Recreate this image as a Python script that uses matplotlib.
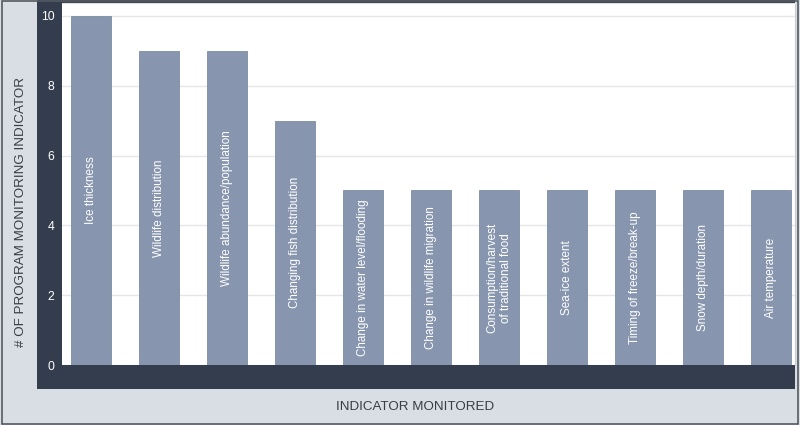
import matplotlib
matplotlib.use("Agg")
from matplotlib import pyplot as plt
from matplotlib.patches import Rectangle

plt.rcParams['font.family'] = ['Liberation Sans', 'DejaVu Sans']

indicators = [
    "Ice thickness",
    "Wildlife distribution",
    "Wildlife abundance/population",
    "Changing fish distribution",
    "Change in water level/flooding",
    "Change in wildlife migration",
    "Consumption/harvest\nof traditional food",
    "Sea-ice extent",
    "Timing of freeze/break-up",
    "Snow depth/duration",
    "Air temperature",
]
counts = [10, 9, 9, 7, 5, 5, 5, 5, 5, 5, 5]
y_ticks = [0, 2, 4, 6, 8, 10]

W, H = 800, 425
fig = plt.figure(figsize=(8, 4.25), dpi=100, facecolor='#d9dee5')

# dark strip behind axes (left + bottom)
fig.patches.append(Rectangle((37 / W, 1 - 389 / H), (795 - 37) / W, 389 / H,
                             transform=fig.transFigure, facecolor='#343d4e',
                             edgecolor='none', zorder=-5))
# outer frame
fig.patches.append(Rectangle((0.002, 0.003), 0.996, 0.995, transform=fig.transFigure,
                             facecolor='none', edgecolor='#555a60', lw=1.2, zorder=5))

ax = fig.add_axes([62 / W, 1 - 365 / H, (795 - 62) / W, (365 - 3) / H])
ax.set_facecolor('white')

x = range(len(indicators))
ax.bar(x, counts, width=0.59, color='#8796ae', edgecolor='#7d8ca4', lw=0.6, zorder=3)

# labels sit in the middle of each bar
for i, (lab, v) in enumerate(zip(indicators, counts)):
    ax.text(i, v / 2, lab, rotation=90, ha='center', va='center',
            multialignment='center', color='white', fontsize=8.4,
            linespacing=1.25, zorder=4)

ax.set_xlim(-0.43, 10.35)
ax.set_ylim(0, 10.37)
ax.set_yticks(y_ticks)
ax.set_xticks([])
ax.tick_params(axis='y', length=0, colors='white', labelsize=8.8, pad=5.5)
ax.grid(axis='y', color='#e6e6e6', lw=1, zorder=0)
for s in ['left', 'bottom']:
    ax.spines[s].set_visible(False)
ax.spines['top'].set_color('#e0e0e0')
ax.spines['right'].set_color('#c8ccd2')

fig.text(21 / W, 1 - 212 / H, "# OF PROGRAM MONITORING INDICATOR", rotation=90,
         ha='center', va='center', color='#3a3d42', fontsize=9.6)
fig.text(415 / W, 1 - 407 / H, "INDICATOR MONITORED", ha='center', va='center',
         color='#3a3d42', fontsize=9.6)

fig.savefig("out.png", dpi=100, facecolor=fig.get_facecolor())
